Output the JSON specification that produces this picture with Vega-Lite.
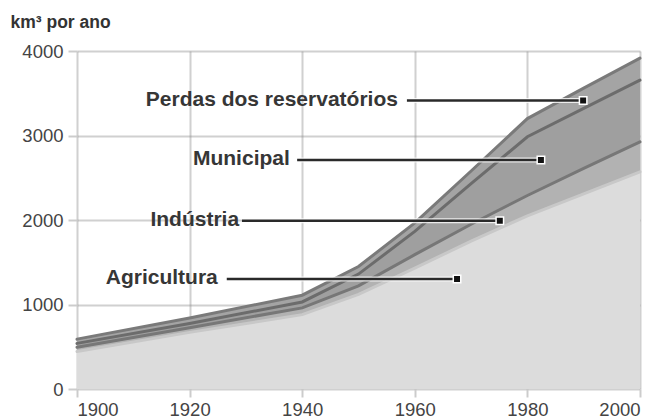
{
  "$schema": "https://vega.github.io/schema/vega-lite/v6.json",
  "width": 563,
  "height": 338,
  "autosize": "none",
  "padding": {"left": 77, "top": 51, "right": 20, "bottom": 30},
  "background": "white",
  "config": {
    "font": "Liberation Sans",
    "view": {"stroke": null},
    "axis": {
      "labelFont": "Liberation Sans",
      "labelFontSize": 18.5,
      "labelColor": "#444444",
      "domain": false,
      "grid": true,
      "gridColor": "#8a8a8a",
      "gridOpacity": 0.4,
      "gridWidth": 2,
      "tickColor": "#cccccc",
      "tickWidth": 2,
      "zindex": 1
    }
  },
  "datasets": {
    "water": [
      {"year": 1900, "sector": "Agricultura", "order": 1, "value": 445},
      {"year": 1900, "sector": "Indústria", "order": 2, "value": 50},
      {"year": 1900, "sector": "Municipal", "order": 3, "value": 45},
      {"year": 1900, "sector": "Perdas dos reservatórios", "order": 4, "value": 50},
      {"year": 1920, "sector": "Agricultura", "order": 1, "value": 670},
      {"year": 1920, "sector": "Indústria", "order": 2, "value": 55},
      {"year": 1920, "sector": "Municipal", "order": 3, "value": 50},
      {"year": 1920, "sector": "Perdas dos reservatórios", "order": 4, "value": 65},
      {"year": 1940, "sector": "Agricultura", "order": 1, "value": 880},
      {"year": 1940, "sector": "Indústria", "order": 2, "value": 80},
      {"year": 1940, "sector": "Municipal", "order": 3, "value": 70},
      {"year": 1940, "sector": "Perdas dos reservatórios", "order": 4, "value": 80},
      {"year": 1950, "sector": "Agricultura", "order": 1, "value": 1120},
      {"year": 1950, "sector": "Indústria", "order": 2, "value": 100},
      {"year": 1950, "sector": "Municipal", "order": 3, "value": 140},
      {"year": 1950, "sector": "Perdas dos reservatórios", "order": 4, "value": 90},
      {"year": 1960, "sector": "Agricultura", "order": 1, "value": 1430},
      {"year": 1960, "sector": "Indústria", "order": 2, "value": 160},
      {"year": 1960, "sector": "Municipal", "order": 3, "value": 275},
      {"year": 1960, "sector": "Perdas dos reservatórios", "order": 4, "value": 100},
      {"year": 1970, "sector": "Agricultura", "order": 1, "value": 1750},
      {"year": 1970, "sector": "Indústria", "order": 2, "value": 200},
      {"year": 1970, "sector": "Municipal", "order": 3, "value": 480},
      {"year": 1970, "sector": "Perdas dos reservatórios", "order": 4, "value": 150},
      {"year": 1980, "sector": "Agricultura", "order": 1, "value": 2050},
      {"year": 1980, "sector": "Indústria", "order": 2, "value": 240},
      {"year": 1980, "sector": "Municipal", "order": 3, "value": 695},
      {"year": 1980, "sector": "Perdas dos reservatórios", "order": 4, "value": 215},
      {"year": 1990, "sector": "Agricultura", "order": 1, "value": 2310},
      {"year": 1990, "sector": "Indústria", "order": 2, "value": 300},
      {"year": 1990, "sector": "Municipal", "order": 3, "value": 710},
      {"year": 1990, "sector": "Perdas dos reservatórios", "order": 4, "value": 240},
      {"year": 2000, "sector": "Agricultura", "order": 1, "value": 2570},
      {"year": 2000, "sector": "Indústria", "order": 2, "value": 355},
      {"year": 2000, "sector": "Municipal", "order": 3, "value": 730},
      {"year": 2000, "sector": "Perdas dos reservatórios", "order": 4, "value": 260}
    ],
    "notes": [
      {"label": "Perdas dos reservatórios", "tx": 1957.0, "x1": 1958.6, "x2": 1989.9, "y": 3414},
      {"label": "Municipal", "tx": 1937.8, "x1": 1939.1, "x2": 1982.4, "y": 2710},
      {"label": "Indústria", "tx": 1928.8, "x1": 1929.3, "x2": 1975.1, "y": 1992},
      {"label": "Agricultura", "tx": 1925.0, "x1": 1926.6, "x2": 1967.5, "y": 1302}
    ]
  },
  "layer": [
    {
      "data": {"name": "water"},
      "transform": [
        {"stack": "value", "groupby": ["year"], "sort": [{"field": "order", "order": "ascending"}], "as": ["y0", "y1"]}
      ],
      "mark": {"type": "area"},
      "encoding": {
        "x": {
          "field": "year", "type": "quantitative",
          "scale": {"domain": [1900, 2000], "nice": false, "zero": false},
          "axis": {"values": [1900, 1920, 1940, 1960, 1980, 2000], "format": "d", "title": null, "tickSize": 8, "labelPadding": 3}
        },
        "y": {
          "field": "y1", "type": "quantitative",
          "scale": {"domain": [0, 4000], "nice": false},
          "axis": {
            "values": [0, 1000, 2000, 3000, 4000], "format": "d", "tickSize": 9, "labelPadding": 5,
            "title": "km³ por ano", "titleAngle": 0, "titleX": -67, "titleY": -24,
            "titleAlign": "left", "titleBaseline": "alphabetic", "titleFontSize": 17.5,
            "titleFontWeight": "bold", "titleColor": "#333333", "titleFont": "Liberation Sans"
          }
        },
        "y2": {"field": "y0"},
        "fill": {
          "field": "sector", "type": "nominal", "legend": null,
          "scale": {"domain": ["Agricultura", "Indústria", "Municipal", "Perdas dos reservatórios"], "range": ["#dcdcdc", "#b2b2b2", "#9f9f9f", "#a4a4a4"]}
        }
      }
    },
    {
      "data": {"name": "water"},
      "transform": [
        {"stack": "value", "groupby": ["year"], "sort": [{"field": "order", "order": "ascending"}], "as": ["y0", "y1"]}
      ],
      "mark": {"type": "line", "strokeWidth": 3, "strokeCap": "round"},
      "encoding": {
        "x": {"field": "year", "type": "quantitative"},
        "y": {"field": "y1", "type": "quantitative"},
        "stroke": {
          "field": "sector", "type": "nominal", "legend": null,
          "scale": {"domain": ["Agricultura", "Indústria", "Municipal", "Perdas dos reservatórios"], "range": ["#c8c8c8", "#777777", "#6c6c6c", "#7a7a7a"]}
        }
      }
    },
    {
      "data": {"name": "notes"},
      "mark": {"type": "rule", "stroke": "white", "strokeWidth": 5, "opacity": 0.8},
      "encoding": {
        "x": {"field": "x1", "type": "quantitative"},
        "x2": {"field": "x2"},
        "y": {"field": "y", "type": "quantitative"}
      }
    },
    {
      "data": {"name": "notes"},
      "mark": {"type": "rule", "stroke": "#2a2a2a", "strokeWidth": 2.5},
      "encoding": {
        "x": {"field": "x1", "type": "quantitative"},
        "x2": {"field": "x2"},
        "y": {"field": "y", "type": "quantitative"}
      }
    },
    {
      "data": {"name": "notes"},
      "mark": {"type": "square", "size": 56, "fill": "#111111", "stroke": "white", "strokeWidth": 1.5, "opacity": 1},
      "encoding": {
        "x": {"field": "x2", "type": "quantitative"},
        "y": {"field": "y", "type": "quantitative"}
      }
    },
    {
      "data": {"name": "notes"},
      "mark": {"type": "text", "align": "right", "baseline": "middle", "dy": -1, "fontSize": 21, "fontWeight": "bold", "fill": "#363636", "font": "Liberation Sans"},
      "encoding": {
        "x": {"field": "tx", "type": "quantitative"},
        "y": {"field": "y", "type": "quantitative"},
        "text": {"field": "label"}
      }
    }
  ]
}
